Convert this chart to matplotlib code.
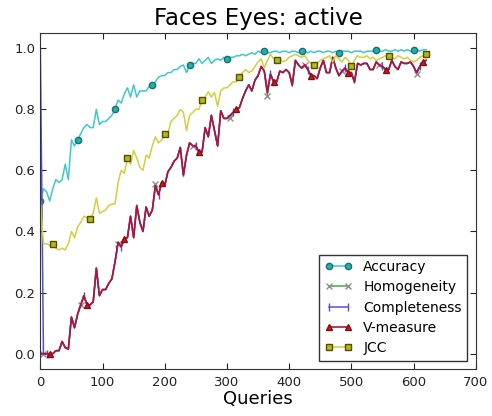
import matplotlib
matplotlib.use("Agg")
import matplotlib.pyplot as plt
import numpy as np

# queries, one sample every 5
queries = np.arange(0, 625, 5)

accuracy = [
    0.50, 0.54, 0.53, 0.50, 0.54, 0.57, 0.56, 0.57, 0.62, 0.57,
    0.70, 0.68, 0.70, 0.72, 0.74, 0.75, 0.74, 0.74, 0.80, 0.75,
    0.76, 0.76, 0.77, 0.78, 0.80, 0.83, 0.82, 0.85, 0.87, 0.84,
    0.88, 0.84, 0.86, 0.86, 0.86, 0.875, 0.88, 0.89, 0.905, 0.91,
    0.91, 0.92, 0.92, 0.93, 0.93, 0.94, 0.945, 0.92, 0.945, 0.95,
    0.95, 0.965, 0.95, 0.96, 0.97, 0.95, 0.96, 0.965, 0.96, 0.97,
    0.965, 0.97, 0.97, 0.975, 0.975, 0.98, 0.975, 0.98, 0.985, 0.98,
    0.99, 0.985, 0.99, 0.985, 0.985, 0.99, 0.99, 0.985, 0.99, 0.99,
    0.985, 0.99, 0.99, 0.985, 0.99, 0.99, 0.985, 0.99, 0.985, 0.99,
    0.99, 0.985, 0.99, 0.99, 0.985, 0.99, 0.985, 0.99, 0.99, 0.99,
    0.985, 0.99, 0.99, 0.99, 0.985, 0.99, 0.99, 0.99, 0.995, 0.99,
    0.99, 0.995, 0.99, 0.99, 0.995, 0.99, 0.995, 0.99, 0.995, 0.99,
    0.995, 0.995, 0.99, 0.995, 0.995,
]

v_measure = [
    0.0, 0.0, 0.0, 0.0, 0.0, 0.01, 0.01, 0.04, 0.02, 0.015,
    0.12, 0.085, 0.13, 0.16, 0.19, 0.16, 0.16, 0.17, 0.28, 0.19,
    0.21, 0.21, 0.23, 0.245, 0.30, 0.365, 0.35, 0.375, 0.38, 0.45,
    0.38, 0.485, 0.43, 0.40, 0.48, 0.45, 0.47, 0.55, 0.52, 0.56,
    0.55, 0.595, 0.61, 0.63, 0.64, 0.675, 0.585, 0.65, 0.69, 0.68,
    0.68, 0.66, 0.66, 0.74, 0.71, 0.78, 0.73, 0.68, 0.795, 0.77,
    0.77, 0.78, 0.79, 0.80, 0.805, 0.835, 0.86, 0.88, 0.86, 0.895,
    0.91, 0.94, 0.925, 0.855, 0.915, 0.89, 0.89, 0.925, 0.92, 0.93,
    0.92, 0.88, 0.96, 0.945, 0.935, 0.945, 0.93, 0.91, 0.91, 0.90,
    0.935, 0.96, 0.92, 0.92, 0.97, 0.935, 0.91, 0.925, 0.935, 0.92,
    0.92, 0.89, 0.95, 0.945, 0.95, 0.95, 0.93, 0.93, 0.955, 0.945,
    0.94, 0.93, 0.93, 0.96, 0.94, 0.93, 0.955, 0.95, 0.95, 0.955,
    0.94, 0.92, 0.94, 0.955, 0.96,
]

homogeneity = [
    0.0, 0.0, 0.0, 0.0, 0.0, 0.01, 0.01, 0.04, 0.02, 0.015,
    0.12, 0.085, 0.13, 0.16, 0.19, 0.16, 0.16, 0.17, 0.28, 0.19,
    0.21, 0.21, 0.23, 0.245, 0.30, 0.36, 0.35, 0.375, 0.38, 0.45,
    0.38, 0.485, 0.43, 0.40, 0.48, 0.45, 0.47, 0.555, 0.52, 0.56,
    0.55, 0.595, 0.61, 0.63, 0.64, 0.675, 0.58, 0.65, 0.69, 0.68,
    0.68, 0.66, 0.66, 0.74, 0.71, 0.78, 0.73, 0.68, 0.795, 0.77,
    0.77, 0.77, 0.79, 0.80, 0.805, 0.835, 0.86, 0.88, 0.86, 0.895,
    0.91, 0.94, 0.925, 0.845, 0.915, 0.89, 0.89, 0.925, 0.92, 0.93,
    0.92, 0.875, 0.96, 0.945, 0.935, 0.945, 0.93, 0.91, 0.91, 0.90,
    0.935, 0.96, 0.92, 0.92, 0.97, 0.935, 0.91, 0.925, 0.935, 0.92,
    0.92, 0.885, 0.95, 0.945, 0.95, 0.95, 0.93, 0.93, 0.955, 0.945,
    0.94, 0.93, 0.93, 0.96, 0.94, 0.93, 0.955, 0.95, 0.95, 0.955,
    0.94, 0.915, 0.94, 0.955, 0.96,
]

completeness = [
    1.0, 0.0, 0.0, 0.0, 0.0, 0.01, 0.01, 0.04, 0.02, 0.015,
    0.12, 0.085, 0.13, 0.16, 0.19, 0.16, 0.16, 0.17, 0.28, 0.19,
    0.21, 0.21, 0.23, 0.245, 0.30, 0.365, 0.35, 0.375, 0.38, 0.45,
    0.38, 0.485, 0.43, 0.40, 0.48, 0.45, 0.47, 0.55, 0.52, 0.56,
    0.55, 0.595, 0.61, 0.63, 0.64, 0.675, 0.585, 0.65, 0.69, 0.68,
    0.68, 0.66, 0.66, 0.74, 0.71, 0.78, 0.73, 0.68, 0.795, 0.77,
    0.77, 0.78, 0.79, 0.80, 0.805, 0.835, 0.86, 0.88, 0.86, 0.895,
    0.91, 0.94, 0.925, 0.86, 0.915, 0.89, 0.89, 0.925, 0.92, 0.93,
    0.92, 0.88, 0.96, 0.945, 0.935, 0.945, 0.93, 0.91, 0.91, 0.90,
    0.935, 0.96, 0.92, 0.92, 0.97, 0.935, 0.91, 0.925, 0.935, 0.92,
    0.92, 0.89, 0.95, 0.945, 0.95, 0.95, 0.93, 0.93, 0.955, 0.945,
    0.94, 0.93, 0.93, 0.96, 0.94, 0.93, 0.955, 0.95, 0.95, 0.955,
    0.94, 0.92, 0.94, 0.955, 0.96,
]

jcc = [
    0.50, 0.36, 0.36, 0.355, 0.36, 0.345, 0.34, 0.345, 0.34, 0.36,
    0.40, 0.38, 0.415, 0.43, 0.45, 0.445, 0.44, 0.46, 0.51, 0.46,
    0.465, 0.47, 0.485, 0.49, 0.49, 0.56, 0.60, 0.59, 0.64, 0.62,
    0.665, 0.64, 0.61, 0.60, 0.65, 0.64, 0.68, 0.71, 0.69, 0.70,
    0.72, 0.72, 0.76, 0.77, 0.78, 0.80, 0.79, 0.73, 0.78, 0.79,
    0.80, 0.80, 0.83, 0.84, 0.857, 0.84, 0.855, 0.81, 0.86, 0.87,
    0.87, 0.88, 0.89, 0.89, 0.905, 0.92, 0.93, 0.92, 0.925, 0.94,
    0.955, 0.965, 0.935, 0.96, 0.98, 0.965, 0.96, 0.965, 0.955, 0.96,
    0.97, 0.975, 0.98, 0.975, 0.97, 0.975, 0.96, 0.95, 0.945, 0.95,
    0.96, 0.965, 0.97, 0.975, 0.955, 0.975, 0.965, 0.955, 0.97, 0.96,
    0.94, 0.96, 0.975, 0.97, 0.97, 0.975, 0.965, 0.97, 0.96, 0.965,
    0.97, 0.975, 0.975, 0.97, 0.965, 0.975, 0.97, 0.965, 0.97, 0.96,
    0.955, 0.96, 0.97, 0.975, 0.98,
]

fig = plt.figure(figsize=(4.92, 4.16), dpi=100)
ax = fig.add_axes([0.082, 0.113, 0.885, 0.808])

ax.plot(queries, accuracy, color="#40c8c8", marker="o", markersize=4.5,
        markerfacecolor="#20b0b0", markeredgecolor="#1a6f6f", markevery=(0, 12),
        lw=1.1, label="Accuracy")
ax.plot(queries, homogeneity, color="#40b040", marker="x", markersize=4.5,
        markeredgecolor="#909090", markevery=(1, 12), lw=1.1, label="Homogeneity")
ax.plot(queries, completeness, color="#5050e0", marker="|", markersize=5.5,
        markevery=(2, 12), lw=1.1, label="Completeness")
ax.plot(queries, v_measure, color="#b8103c", marker="^", markersize=4.5,
        markerfacecolor="#d01818", markeredgecolor="#801010", markevery=(3, 12),
        lw=1.2, label="V-measure")
ax.plot(queries, jcc, color="#d0d040", marker="s", markersize=4.5,
        markerfacecolor="#b8b810", markeredgecolor="#505000", markevery=(4, 12),
        lw=1.1, label="JCC")

ax.set_xlim(0, 700)
ax.set_ylim(-0.05, 1.05)
ax.set_xticks(np.arange(0, 701, 100))
ax.set_yticks(np.arange(0, 1.01, 0.2))
ax.set_yticklabels([f"{v:.1f}" for v in np.arange(0, 1.01, 0.2)])
ax.tick_params(direction="in", top=True, right=True, labelsize=9.5, length=4, colors="#222222")
ax.tick_params(axis="x", pad=5)
for s in ax.spines.values():
    s.set_color("#333333")

ax.set_title("Faces Eyes: active", fontsize=16.5, pad=6)
ax.set_xlabel("Queries", fontsize=13, labelpad=1)

leg = ax.legend(loc="lower right", numpoints=2, fontsize=10, fancybox=False,
                framealpha=1, edgecolor="#333333", handlelength=2.0, borderpad=0.4,
                labelspacing=0.45, handletextpad=0.8, borderaxespad=0.6)

fig.savefig("out.png", dpi=100, facecolor="white")
